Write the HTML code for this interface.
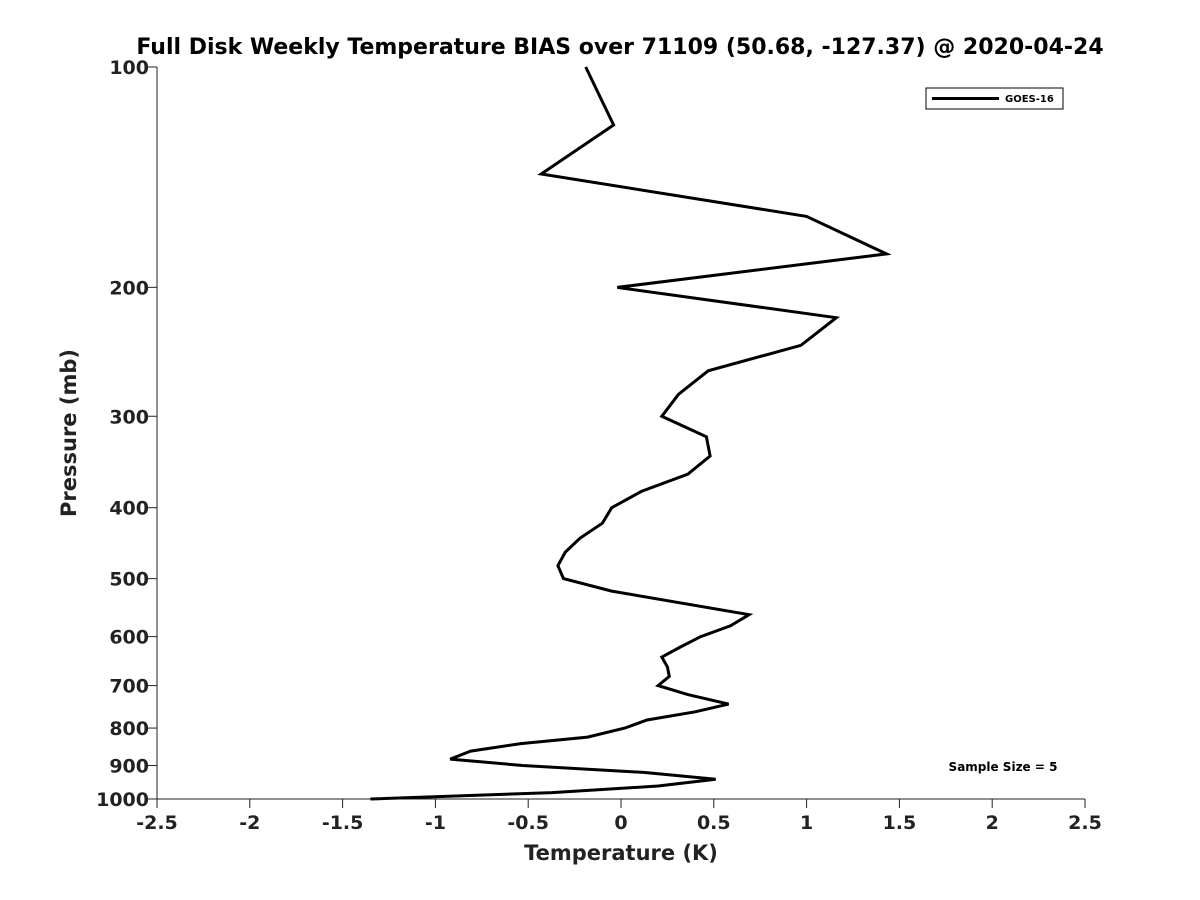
<!DOCTYPE html>
<html><head><meta charset="utf-8"><style>
html,body{margin:0;padding:0;background:#fff;}
svg{display:block;font-family:"DejaVu Sans","Liberation Sans",sans-serif;}
</style></head><body>
<svg id="chart" width="1200" height="900" xmlns="http://www.w3.org/2000/svg">
<rect width="1200" height="900" fill="#fff"/>
<text x="620" y="54" text-anchor="middle" font-size="22" font-weight="bold">Full Disk Weekly Temperature BIAS over 71109 (50.68, -127.37) @ 2020-04-24</text>
<g id="axes"></g>
<text x="621" y="860" text-anchor="middle" font-size="21" font-weight="bold" fill="#222">Temperature (K)</text>
<text transform="translate(76,433) rotate(-90)" text-anchor="middle" font-size="21" font-weight="bold" fill="#222">Pressure (mb)</text>
<g>
<rect x="926" y="88" width="137" height="21" fill="#fff" stroke="#000" stroke-width="1"/>
<line x1="932" y1="98.5" x2="999" y2="98.5" stroke="#000" stroke-width="3"/>
<text x="1005" y="102" font-size="10" font-weight="bold">GOES-16</text>
</g>
<text x="1003" y="771" text-anchor="middle" font-size="12" font-weight="bold">Sample Size = 5</text>
</svg>
<script>
const pressures=[100,120,140,160,180,200,220,240,260,280,300,320,340,360,380,400,420,440,460,480,500,520,560,580,600,620,640,660,680,700,720,742,760,780,800,823,840,860,882,900,920,940,960,980,1000];
const bias=[-0.19,-0.04,-0.43,1.0,1.43,-0.02,1.16,0.97,0.47,0.31,0.22,0.46,0.48,0.36,0.11,-0.05,-0.10,-0.22,-0.30,-0.34,-0.31,-0.05,0.69,0.59,0.43,0.32,0.22,0.25,0.26,0.20,0.36,0.58,0.40,0.14,0.02,-0.18,-0.54,-0.81,-0.92,-0.53,0.13,0.51,0.20,-0.37,-1.35];
const xTicks=[-2.5,-2,-1.5,-1,-0.5,0,0.5,1,1.5,2,2.5];
const yTicks=[100,200,300,400,500,600,700,800,900,1000];
const NS="http://www.w3.org/2000/svg";
const x0=157,x1=1085,y0=67,y1=799;
const X=v=>x0+(v+2.5)/5*(x1-x0);
const Y=p=>y0+Math.log10(p/100)*(y1-y0);
const g=document.getElementById('axes');
function mk(t,a){const e=document.createElementNS(NS,t);for(const k in a)e.setAttribute(k,a[k]);return e;}
const ax=mk('path',{d:`M${x0},${y0}V${y1}H${x1}`,fill:'none',stroke:'#222','stroke-width':1});


g.appendChild(ax);
xTicks.forEach(v=>{
 const l=mk('line',{x1:X(v),x2:X(v),y1:y1,y2:y1+9,stroke:'#222'});
 
 
 g.appendChild(l);
 const t=mk('text',{x:X(v),y:y1+30,'text-anchor':'middle','font-size':19,'font-weight':'bold',fill:'#222'});
 t.textContent=String(v);
 
 
 g.appendChild(t);
});
yTicks.forEach(p=>{
 const l=mk('line',{x1:x0-9,x2:x0,y1:Y(p),y2:Y(p),stroke:'#222'});
 
 
 g.appendChild(l);
 const t=mk('text',{x:x0-8,y:Y(p)+7,'text-anchor':'end','font-size':19,'font-weight':'bold',fill:'#222'});
 t.textContent=String(p);
 
 
 g.appendChild(t);
});
const d=pressures.map((p,i)=>(i?'L':'M')+X(bias[i]).toFixed(1)+','+Y(p).toFixed(1)).join('');
const line=mk('path',{d:d,fill:'none',stroke:'#000','stroke-width':3,'stroke-linejoin':'miter'});


g.appendChild(line);
</script>
</body></html>
